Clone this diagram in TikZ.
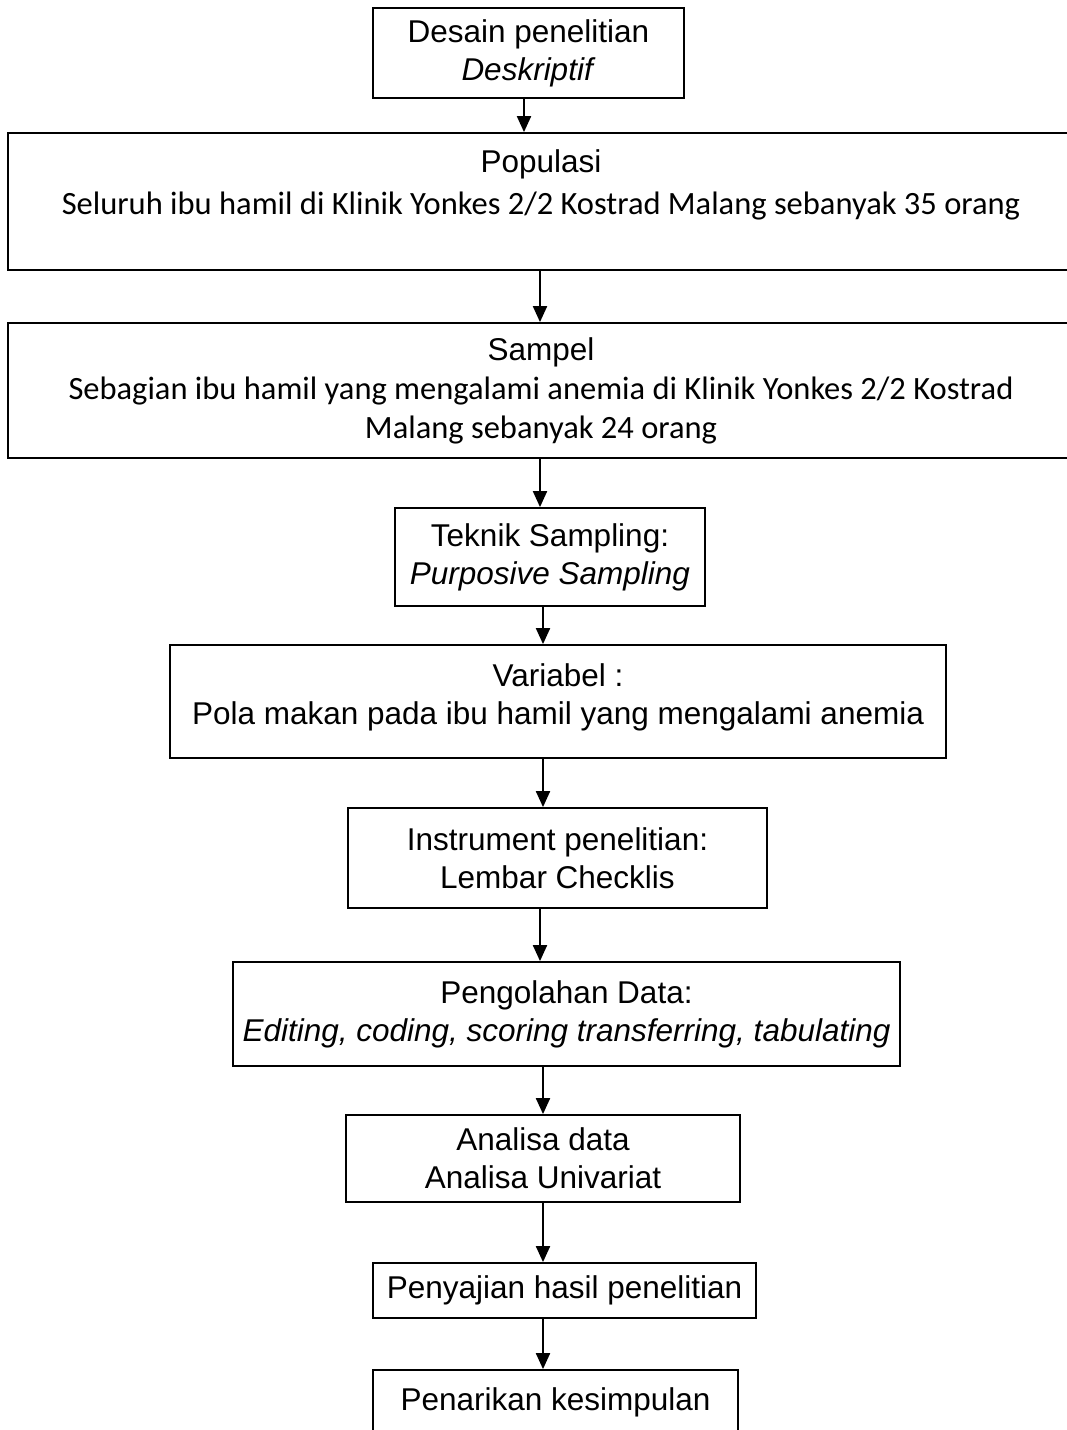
\documentclass[tikz,border=0pt]{standalone}
\usepackage{fontspec}
\setmainfont{Liberation Sans}
\newfontfamily\calibri{Carlito}
\usetikzlibrary{arrows.meta}
\newcommand{\caltext}[1]{{\calibri\fontsize{32.5}{38}\selectfont #1}}
\begin{document}
\begin{tikzpicture}[x=1pt,y=-1pt,
  box/.style={draw,line width=1.8pt,align=center,inner sep=0pt,font=\fontsize{31.5}{38}\selectfont},
  arr/.style={line width=2pt,-{Triangle[length=16pt,width=14pt]}}]
  \useasboundingbox (0,0) rectangle (1067,1430);
  \clip (0,0) rectangle (1067,1430);

  % Desain, populasi and sampel
  \node[box,minimum width=311pt,minimum height=90pt] (desain) at (528.5,53) {Desain penelitian\\ \textit{Deskriptif}};
  \node[box,minimum width=1066pt,minimum height=137pt] (pop) at (541,201.5) {Populasi\\[4pt] \caltext{Seluruh ibu hamil di Klinik Yonkes 2/2 Kostrad Malang sebanyak 35 orang}\\ \mbox{}};
  \node[box,minimum width=1066pt,minimum height=135pt] (sampel) at (541,390.5) {Sampel\\[1pt] \caltext{Sebagian ibu hamil yang mengalami anemia di Klinik Yonkes 2/2 Kostrad}\\[1pt] \caltext{Malang sebanyak 24 orang}};

  % Teknik, variabel and instrument
  \node[box,minimum width=310pt,minimum height=98pt] (teknik) at (550,557) {Teknik Sampling:\\ \textit{Purposive Sampling}};
  \node[box,minimum width=776pt,minimum height=113pt] (variabel) at (558,701.5) {Variabel :\\ Pola makan pada ibu hamil yang mengalami anemia\\[-24pt] \mbox{}};
  \node[box,minimum width=419pt,minimum height=100pt] (instrumen) at (557.5,858) {Instrument penelitian:\\ Lembar Checklis};

  % Pengolahan until kesimpulan
  \node[box,minimum width=667pt,minimum height=104pt] (olah) at (566.5,1014) {Pengolahan Data:\\ \textit{Editing, coding, scoring transferring, tabulating}};
  \node[box,minimum width=394pt,minimum height=87pt] (analisa) at (543,1158.5) {Analisa data\\ Analisa Univariat};
  \node[box,minimum width=383pt,minimum height=55pt] (sajian) at (564.5,1290.5) {Penyajian hasil penelitian};
  \node[box,minimum width=365pt,minimum height=64pt] (simpul) at (555.5,1402) {Penarikan kesimpulan};

  % Arrows
  \draw[arr] (desain.south -| 524,0) -- (pop.north -| 524,0);
  \draw[arr] (pop.south -| 540,0) -- (sampel.north -| 540,0);
  \draw[arr] (sampel.south -| 540,0) -- (teknik.north -| 540,0);
  \draw[arr] (teknik.south -| 543,0) -- (variabel.north -| 543,0);
  \draw[arr] (variabel.south -| 543,0) -- (instrumen.north -| 543,0);
  \draw[arr] (instrumen.south -| 540,0) -- (olah.north -| 540,0);
  \draw[arr] (olah.south -| 543,0) -- (analisa.north -| 543,0);
  \draw[arr] (analisa.south -| 543,0) -- (sajian.north -| 543,0);
  \draw[arr] (sajian.south -| 543,0) -- (simpul.north -| 543,0);
\end{tikzpicture}
\end{document}
